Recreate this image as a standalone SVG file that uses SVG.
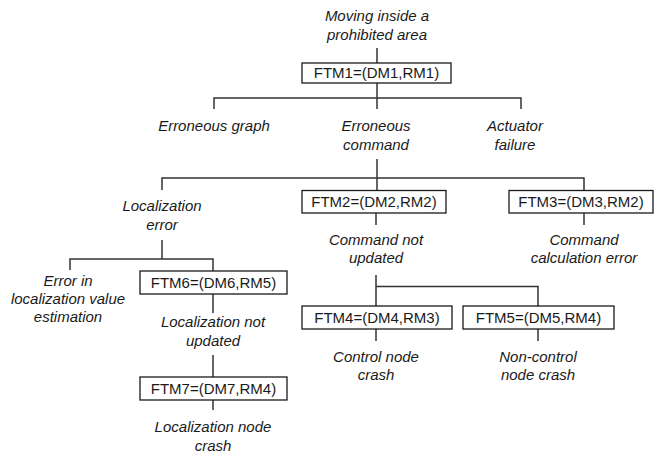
<svg xmlns="http://www.w3.org/2000/svg" width="656" height="453" viewBox="0 0 656 453">
<style>
  text { font-family: "Liberation Sans", Arial, sans-serif; font-size: 15px; fill: #1a1a1a; text-anchor: middle; }
  .lbl { font-style: italic; }
  .box { fill: #ffffff; stroke: #1a1a1a; stroke-width: 1.3; }
  .conn { fill: none; stroke: #333333; stroke-width: 1.5; }
</style>
<rect width="656" height="453" fill="#ffffff"/>
<g id="connectors" class="conn">
  <path d="M377 48 V63"/>
  <path d="M377 83 V109"/>
  <path d="M214 109 V98 H521 V109"/>
  <path d="M377 159 V190.5"/>
  <path d="M162 190 V178 H584 V190.5"/>
  <path d="M376 213 V225"/>
  <path d="M584 213 V225"/>
  <path d="M162 240 V259"/>
  <path d="M70 270 V259 H213 V271"/>
  <path d="M376 275 V306"/>
  <path d="M376 286.5 H538 V306"/>
  <path d="M376 329 V341"/>
  <path d="M538 329 V341"/>
  <path d="M213 294 V313"/>
  <path d="M213 355 V377"/>
  <path d="M213 400 V410"/>
</g>
<g id="top">
  <text class="lbl" x="377" y="21">Moving inside a</text>
  <text class="lbl" x="377" y="40">prohibited area</text>
</g>
<g id="ftm1">
  <rect class="box" x="302" y="63" width="149" height="20"/>
  <text x="376.5" y="78.3">FTM1=(DM1,RM1)</text>
</g>
<g id="erroneous-graph">
  <text class="lbl" x="214" y="131">Erroneous graph</text>
</g>
<g id="erroneous-command">
  <text class="lbl" x="376" y="131">Erroneous</text>
  <text class="lbl" x="376" y="150">command</text>
</g>
<g id="actuator-failure">
  <text class="lbl" x="515" y="131">Actuator</text>
  <text class="lbl" x="515" y="150">failure</text>
</g>
<g id="localization-error">
  <text class="lbl" x="162" y="211">Localization</text>
  <text class="lbl" x="162" y="229.5">error</text>
</g>
<g id="ftm2">
  <rect class="box" x="302" y="190.5" width="144" height="22.5"/>
  <text x="374" y="207">FTM2=(DM2,RM2)</text>
</g>
<g id="ftm3">
  <rect class="box" x="509" y="190.5" width="144" height="22.5"/>
  <text x="581" y="207">FTM3=(DM3,RM2)</text>
</g>
<g id="command-not-updated">
  <text class="lbl" x="376" y="245">Command not</text>
  <text class="lbl" x="376" y="263">updated</text>
</g>
<g id="command-calc-error">
  <text class="lbl" x="584" y="245">Command</text>
  <text class="lbl" x="584" y="263">calculation error</text>
</g>
<g id="error-in-localization">
  <text class="lbl" x="68" y="286">Error in</text>
  <text class="lbl" x="68" y="304">localization value</text>
  <text class="lbl" x="68" y="322">estimation</text>
</g>
<g id="ftm6">
  <rect class="box" x="140" y="271" width="147" height="23"/>
  <text x="213.5" y="288">FTM6=(DM6,RM5)</text>
</g>
<g id="ftm4">
  <rect class="box" x="302" y="306" width="150" height="23"/>
  <text x="377" y="323">FTM4=(DM4,RM3)</text>
</g>
<g id="ftm5">
  <rect class="box" x="463" y="306" width="151" height="23"/>
  <text x="538.5" y="323">FTM5=(DM5,RM4)</text>
</g>
<g id="localization-not-updated">
  <text class="lbl" x="213" y="327">Localization not</text>
  <text class="lbl" x="213" y="345.5">updated</text>
</g>
<g id="control-node-crash">
  <text class="lbl" x="376" y="362">Control node</text>
  <text class="lbl" x="376" y="380">crash</text>
</g>
<g id="non-control-node-crash">
  <text class="lbl" x="538" y="362">Non-control</text>
  <text class="lbl" x="538" y="380">node crash</text>
</g>
<g id="ftm7">
  <rect class="box" x="140" y="377" width="147" height="23"/>
  <text x="213.5" y="394">FTM7=(DM7,RM4)</text>
</g>
<g id="localization-node-crash">
  <text class="lbl" x="213" y="432">Localization node</text>
  <text class="lbl" x="213" y="450.5">crash</text>
</g>
</svg>
